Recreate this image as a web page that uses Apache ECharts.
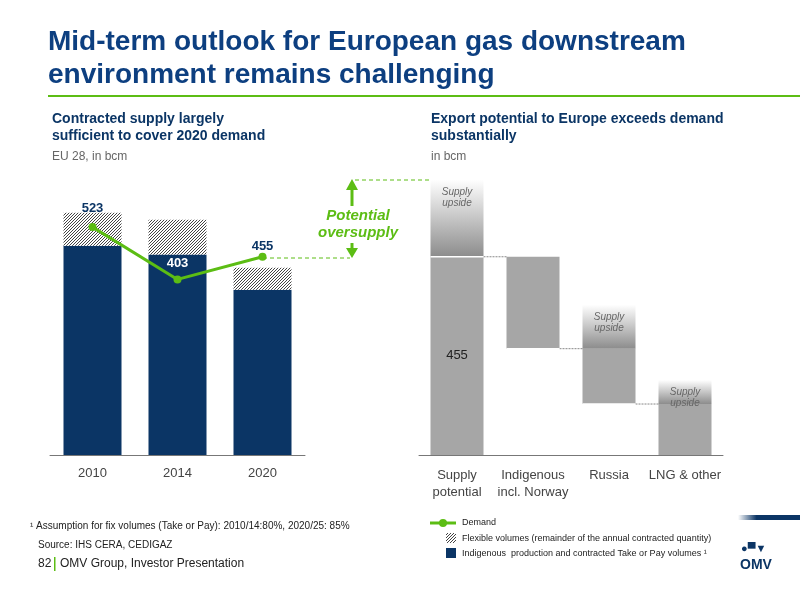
<!DOCTYPE html>
<html><head><meta charset="utf-8">
<script src="https://cdn.jsdelivr.net/npm/echarts@6/dist/echarts.min.js"></script>
<style>html,body{margin:0;padding:0;background:#fff}#c{width:800px;height:600px}</style>
</head><body><div id="c"></div>
<script>
// Left chart data
const years = ['2010','2014','2020'];
const takeOrPay = [480, 460, 379];
const flexible = [76, 80, 51];
const demand = [523, 403, 455];
// Right chart data (waterfall)
const wfCats = ['Supply\npotential','Indigenous\nincl. Norway','Russia','LNG & other'];
const wfBase = [0, 244, 117, 0];
const wfValue = [455, 211, 127, 117];
const wfUpside = [177, 0, 101, 55];

const NAVY = '#0b3565', GREEN = '#5cbd14', FONT = 'Liberation Sans, Arial, sans-serif';

// hatch pattern
const pc = document.createElement('canvas'); pc.width = 6; pc.height = 6;
const px = pc.getContext('2d'); px.fillStyle = '#fff'; px.fillRect(0,0,6,6);
px.strokeStyle = '#444'; px.lineWidth = 1;
for (let k=-6;k<=12;k+=3){px.beginPath();px.moveTo(k,6);px.lineTo(k+6,0);px.stroke();}
const hatch = {image: pc, repeat: 'repeat'};

const upGrad = {type:'linear',x:0,y:0,x2:0,y2:1,colorStops:[{offset:0,color:'#ffffff'},{offset:1,color:'#8c8c8c'}]};
const upLabel = {show:true, formatter:'Supply\nupside', fontStyle:'italic', color:'#666', fontSize:10, fontFamily:FONT, lineHeight:11};

const demandLabelPos = [[0,-3],[0,0],[0,5]];
const demandLabelColor = [NAVY,'#fff',NAVY];

const chart = echarts.init(document.getElementById('c'));
chart.setOption({
  animation:false,
  textStyle:{fontFamily:FONT},
  grid:[{left:50,width:255,top:150,height:305},{left:419,width:304,top:150,height:305}],
  xAxis:[
    {gridIndex:0,type:'category',data:years,axisTick:{show:false},axisLine:{lineStyle:{color:'#777'}},axisLabel:{interval:0,color:'#444',fontSize:13,margin:12}},
    {gridIndex:1,type:'category',data:wfCats,axisTick:{show:false},axisLine:{lineStyle:{color:'#777'}},axisLabel:{interval:0,color:'#444',fontSize:13,margin:12,lineHeight:17}}
  ],
  yAxis:[
    {gridIndex:0,type:'value',min:0,max:700,show:false},
    {gridIndex:1,type:'value',min:0,max:700,show:false}
  ],
  series:[
    {type:'bar',xAxisIndex:0,yAxisIndex:0,stack:'L',data:takeOrPay,barWidth:58,itemStyle:{color:NAVY}},
    {type:'bar',xAxisIndex:0,yAxisIndex:0,stack:'L',data:flexible,itemStyle:{color:hatch}},
    {type:'line',xAxisIndex:0,yAxisIndex:0,data:demand.map((v,i)=>({value:v,label:{offset:demandLabelPos[i],color:demandLabelColor[i]}})),
     symbol:'circle',symbolSize:8,lineStyle:{color:GREEN,width:3},itemStyle:{color:GREEN},
     label:{show:true,position:'top',fontWeight:'bold',fontSize:13,color:NAVY},z:5},
    {type:'bar',xAxisIndex:1,yAxisIndex:1,stack:'R',data:wfBase,barWidth:53,itemStyle:{color:'transparent'}},
    {type:'bar',xAxisIndex:1,yAxisIndex:1,stack:'R',data:wfValue.map((v,i)=>({value:v,label:{show:i===0}})),
     itemStyle:{color:'#a6a6a6'},label:{show:false,position:'inside',color:'#222',fontSize:13}},
    {type:'bar',xAxisIndex:1,yAxisIndex:1,stack:'R',data:wfUpside.map(v=>({value:v,label:{show:v>0}})),
     itemStyle:{color:upGrad},label:Object.assign({},upLabel,{position:['50%',18],align:'center',verticalAlign:'middle'}),
     barWidth:53},
    {type:'custom',xAxisIndex:1,yAxisIndex:1,data:[0,1,2].map(i=>[i, i===0?wfValue[0]:wfBase[i]]),
     renderItem:function(params,api){
       const i=api.value(0); const v=api.value(1);
       const p1=api.coord([i,v]); const p2=api.coord([i+1,v]); const hw=api.size([1,0])[0]*53/76/2;
       return {type:'group',children:[
        {type:'line',shape:{x1:p1[0]+hw,y1:p1[1],x2:p2[0]-hw,y2:p2[1]},style:{stroke:'#888',lineWidth:1,lineDash:[2,1]}},
        {type:'line',shape:{x1:p1[0]-hw,y1:p1[1],x2:p1[0]+hw,y2:p1[1]},style:{stroke:'#fff',lineWidth:1.5}}
       ]};
     },z:10}
  ],
  graphic:[
    {type:'text',left:48,top:26,style:{text:'Mid-term outlook for European gas downstream\nenvironment remains challenging',fill:'#0d3f80',font:'bold 28px '+FONT,lineHeight:33}},
    {type:'rect',shape:{x:48,y:95,width:752,height:2},style:{fill:GREEN}},
    {type:'text',left:52,top:111,style:{text:'Contracted supply largely\nsufficient to cover 2020 demand',fill:NAVY,font:'bold 14px '+FONT,lineHeight:17}},
    {type:'text',left:52,top:151,style:{text:'EU 28, in bcm',fill:'#666',font:'12px '+FONT}},
    {type:'text',left:431,top:111,style:{text:'Export potential to Europe exceeds demand\nsubstantially',fill:NAVY,font:'bold 14px '+FONT,lineHeight:17}},
    {type:'text',left:431,top:151,style:{text:'in bcm',fill:'#666',font:'12px '+FONT}},
    {type:'line',shape:{x1:263,y1:258,x2:350,y2:258},style:{stroke:GREEN,lineWidth:1,lineDash:[4,3]}},
    {type:'line',shape:{x1:355,y1:180,x2:432,y2:180},style:{stroke:GREEN,lineWidth:1,lineDash:[4,3]}},
    {type:'line',shape:{x1:352,y1:188,x2:352,y2:206},style:{stroke:GREEN,lineWidth:3}},
    {type:'polygon',shape:{points:[[346,190],[358,190],[352,179]]},style:{fill:GREEN}},
    {type:'line',shape:{x1:352,y1:243,x2:352,y2:250},style:{stroke:GREEN,lineWidth:3}},
    {type:'polygon',shape:{points:[[346,248],[358,248],[352,258]]},style:{fill:GREEN}},
    {type:'text',x:358,y:207,style:{text:'Potential\noversupply',fill:GREEN,font:'italic bold 15px '+FONT,align:'center',lineHeight:17}},
    {type:'text',left:30,top:521,style:{text:'¹ Assumption for fix volumes (Take or Pay): 2010/14:80%, 2020/25: 85%',fill:'#222',font:'10px '+FONT}},
    {type:'text',left:38,top:540,style:{text:'Source: IHS CERA, CEDIGAZ',fill:'#222',font:'10px '+FONT}},
    {type:'text',left:38,top:558,style:{text:'82',fill:'#222',font:'12px '+FONT}},
    {type:'rect',shape:{x:54,y:557,width:1.5,height:14},style:{fill:GREEN}},
    {type:'text',left:60,top:558,style:{text:'OMV Group, Investor Presentation',fill:'#222',font:'12px '+FONT}},
    {type:'line',shape:{x1:430,y1:523,x2:456,y2:523},style:{stroke:GREEN,lineWidth:3}},
    {type:'circle',shape:{cx:443,cy:523,r:4},style:{fill:GREEN}},
    {type:'text',left:462,top:518,style:{text:'Demand',fill:'#222',font:'9px '+FONT}},
    {type:'rect',shape:{x:446,y:533,width:10,height:10},style:{fill:hatch}},
    {type:'text',left:462,top:534,style:{text:'Flexible volumes (remainder of the annual contracted quantity)',fill:'#222',font:'9px '+FONT}},
    {type:'rect',shape:{x:446,y:548,width:10,height:10},style:{fill:NAVY}},
    {type:'text',left:462,top:549,style:{text:'Indigenous  production and contracted Take or Pay volumes ¹',fill:'#222',font:'9px '+FONT}},
    {type:'rect',shape:{x:738,y:515,width:62,height:5},style:{fill:{type:'linear',x:0,y:0,x2:1,y2:0,colorStops:[{offset:0,color:'#fff'},{offset:0.3,color:NAVY},{offset:1,color:NAVY}]}}},
    {type:'text',left:741,top:543,style:{text:'●▀▼',fill:NAVY,font:'bold 11px '+FONT}},
    {type:'text',left:740,top:558,style:{text:'OMV',fill:NAVY,font:'bold 14px '+FONT}}
  ]
});
</script></body></html>
